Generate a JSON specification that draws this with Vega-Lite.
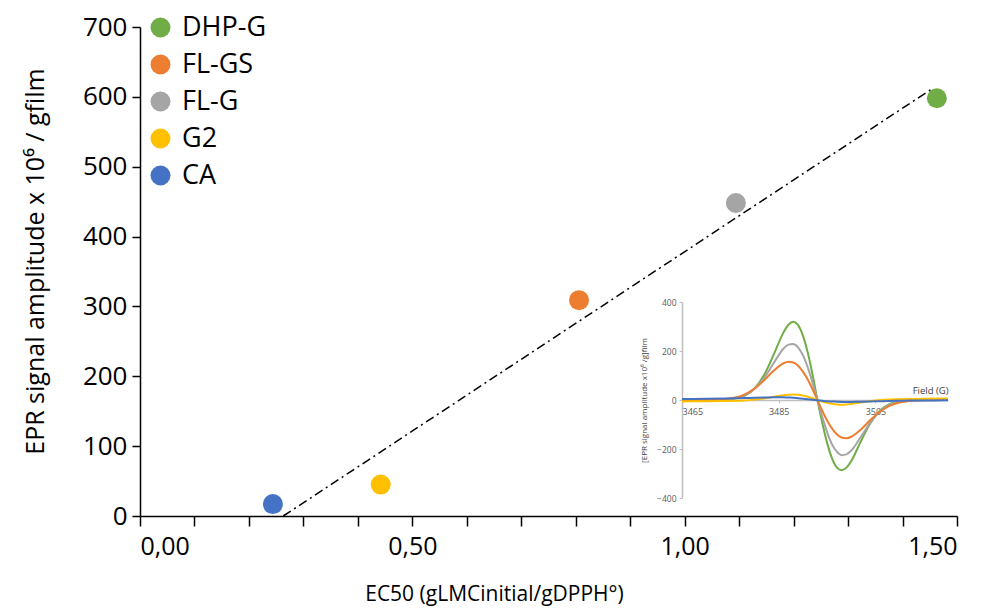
{
  "$schema": "https://vega.github.io/schema/vega-lite/v6.json",
  "width": 817,
  "height": 489,
  "autosize": "none",
  "padding": {"left": 140, "top": 27, "right": 33, "bottom": 100},
  "background": "white",
  "config": {"view": {"stroke": null}, "font": "Open Sans", "axis": {"grid": false}},
  "datasets": {
    "trend": [{"x": 0.263, "y": 0}, {"x": 1.455, "y": 612}],
    "points": [
      {"x": 1.463, "y": 598, "s": "DHP-G"},
      {"x": 0.806, "y": 309, "s": "FL-GS"},
      {"x": 1.094, "y": 448, "s": "FL-G"},
      {"x": 0.442, "y": 45, "s": "G2"},
      {"x": 0.244, "y": 17, "s": "CA"}
    ],
    "epr": [
      {"f":3465,"a":0,"s":"DHP-G"},{"f":3470,"a":0,"s":"DHP-G"},{"f":3474,"a":1,"s":"DHP-G"},{"f":3476,"a":6,"s":"DHP-G"},{"f":3478,"a":18,"s":"DHP-G"},{"f":3480,"a":47,"s":"DHP-G"},{"f":3482,"a":103,"s":"DHP-G"},{"f":3484,"a":187,"s":"DHP-G"},{"f":3486,"a":276,"s":"DHP-G"},{"f":3487,"a":307,"s":"DHP-G"},{"f":3488,"a":319,"s":"DHP-G"},{"f":3489,"a":306,"s":"DHP-G"},{"f":3490,"a":263,"s":"DHP-G"},{"f":3491,"a":194,"s":"DHP-G"},{"f":3492,"a":103,"s":"DHP-G"},{"f":3493,"a":0,"s":"DHP-G"},{"f":3494,"a":-93,"s":"DHP-G"},{"f":3495,"a":-175,"s":"DHP-G"},{"f":3496,"a":-237,"s":"DHP-G"},{"f":3497,"a":-275,"s":"DHP-G"},{"f":3498,"a":-287,"s":"DHP-G"},{"f":3499,"a":-276,"s":"DHP-G"},{"f":3500,"a":-249,"s":"DHP-G"},{"f":3502,"a":-168,"s":"DHP-G"},{"f":3504,"a":-93,"s":"DHP-G"},{"f":3506,"a":-42,"s":"DHP-G"},{"f":3508,"a":-16,"s":"DHP-G"},{"f":3510,"a":-5,"s":"DHP-G"},{"f":3512,"a":-1,"s":"DHP-G"},{"f":3515,"a":0,"s":"DHP-G"},{"f":3520,"a":0,"s":"DHP-G"},
      {"f":3465,"a":0,"s":"FL-G"},{"f":3470,"a":0,"s":"FL-G"},{"f":3474,"a":2,"s":"FL-G"},{"f":3476,"a":7,"s":"FL-G"},{"f":3478,"a":20,"s":"FL-G"},{"f":3480,"a":46,"s":"FL-G"},{"f":3482,"a":91,"s":"FL-G"},{"f":3484,"a":152,"s":"FL-G"},{"f":3486,"a":210,"s":"FL-G"},{"f":3487,"a":226,"s":"FL-G"},{"f":3488,"a":229,"s":"FL-G"},{"f":3489,"a":215,"s":"FL-G"},{"f":3490,"a":183,"s":"FL-G"},{"f":3491,"a":133,"s":"FL-G"},{"f":3492,"a":70,"s":"FL-G"},{"f":3493,"a":0,"s":"FL-G"},{"f":3494,"a":-69,"s":"FL-G"},{"f":3495,"a":-131,"s":"FL-G"},{"f":3496,"a":-180,"s":"FL-G"},{"f":3497,"a":-211,"s":"FL-G"},{"f":3498,"a":-225,"s":"FL-G"},{"f":3499,"a":-222,"s":"FL-G"},{"f":3500,"a":-206,"s":"FL-G"},{"f":3502,"a":-150,"s":"FL-G"},{"f":3504,"a":-90,"s":"FL-G"},{"f":3506,"a":-45,"s":"FL-G"},{"f":3508,"a":-19,"s":"FL-G"},{"f":3510,"a":-7,"s":"FL-G"},{"f":3512,"a":-2,"s":"FL-G"},{"f":3515,"a":0,"s":"FL-G"},{"f":3520,"a":0,"s":"FL-G"},
      {"f":3465,"a":0,"s":"FL-GS"},{"f":3470,"a":0,"s":"FL-GS"},{"f":3474,"a":4,"s":"FL-GS"},{"f":3476,"a":10,"s":"FL-GS"},{"f":3478,"a":23,"s":"FL-GS"},{"f":3480,"a":47,"s":"FL-GS"},{"f":3482,"a":81,"s":"FL-GS"},{"f":3484,"a":120,"s":"FL-GS"},{"f":3486,"a":150,"s":"FL-GS"},{"f":3487,"a":156,"s":"FL-GS"},{"f":3488,"a":153,"s":"FL-GS"},{"f":3489,"a":140,"s":"FL-GS"},{"f":3490,"a":116,"s":"FL-GS"},{"f":3491,"a":84,"s":"FL-GS"},{"f":3492,"a":44,"s":"FL-GS"},{"f":3493,"a":0,"s":"FL-GS"},{"f":3494,"a":-44,"s":"FL-GS"},{"f":3495,"a":-84,"s":"FL-GS"},{"f":3496,"a":-116,"s":"FL-GS"},{"f":3497,"a":-140,"s":"FL-GS"},{"f":3498,"a":-153,"s":"FL-GS"},{"f":3499,"a":-156,"s":"FL-GS"},{"f":3500,"a":-150,"s":"FL-GS"},{"f":3502,"a":-120,"s":"FL-GS"},{"f":3504,"a":-81,"s":"FL-GS"},{"f":3506,"a":-47,"s":"FL-GS"},{"f":3508,"a":-23,"s":"FL-GS"},{"f":3510,"a":-10,"s":"FL-GS"},{"f":3512,"a":-4,"s":"FL-GS"},{"f":3515,"a":-1,"s":"FL-GS"},{"f":3520,"a":0,"s":"FL-GS"},
      {"f":3465,"a":-6,"s":"G2"},{"f":3470,"a":-5,"s":"G2"},{"f":3474,"a":-4,"s":"G2"},{"f":3476,"a":-3,"s":"G2"},{"f":3478,"a":-2,"s":"G2"},{"f":3480,"a":2,"s":"G2"},{"f":3482,"a":6,"s":"G2"},{"f":3484,"a":13,"s":"G2"},{"f":3486,"a":19,"s":"G2"},{"f":3487,"a":21,"s":"G2"},{"f":3488,"a":22,"s":"G2"},{"f":3489,"a":21,"s":"G2"},{"f":3490,"a":18,"s":"G2"},{"f":3491,"a":13,"s":"G2"},{"f":3492,"a":7,"s":"G2"},{"f":3493,"a":0,"s":"G2"},{"f":3494,"a":-6,"s":"G2"},{"f":3495,"a":-11,"s":"G2"},{"f":3496,"a":-15,"s":"G2"},{"f":3497,"a":-18,"s":"G2"},{"f":3498,"a":-19,"s":"G2"},{"f":3499,"a":-18,"s":"G2"},{"f":3500,"a":-16,"s":"G2"},{"f":3502,"a":-10,"s":"G2"},{"f":3504,"a":-4,"s":"G2"},{"f":3506,"a":0,"s":"G2"},{"f":3508,"a":2,"s":"G2"},{"f":3510,"a":3,"s":"G2"},{"f":3512,"a":4,"s":"G2"},{"f":3515,"a":5,"s":"G2"},{"f":3520,"a":6,"s":"G2"},
      {"f":3465,"a":4,"s":"CA"},{"f":3470,"a":5,"s":"CA"},{"f":3474,"a":6,"s":"CA"},{"f":3476,"a":7,"s":"CA"},{"f":3478,"a":8,"s":"CA"},{"f":3480,"a":9,"s":"CA"},{"f":3482,"a":10,"s":"CA"},{"f":3484,"a":11,"s":"CA"},{"f":3486,"a":11,"s":"CA"},{"f":3487,"a":10,"s":"CA"},{"f":3488,"a":9,"s":"CA"},{"f":3489,"a":7,"s":"CA"},{"f":3490,"a":5,"s":"CA"},{"f":3491,"a":3,"s":"CA"},{"f":3492,"a":1,"s":"CA"},{"f":3493,"a":-1,"s":"CA"},{"f":3494,"a":-3,"s":"CA"},{"f":3495,"a":-5,"s":"CA"},{"f":3496,"a":-6,"s":"CA"},{"f":3497,"a":-7,"s":"CA"},{"f":3498,"a":-8,"s":"CA"},{"f":3499,"a":-8,"s":"CA"},{"f":3500,"a":-8,"s":"CA"},{"f":3502,"a":-7,"s":"CA"},{"f":3504,"a":-6,"s":"CA"},{"f":3506,"a":-5,"s":"CA"},{"f":3508,"a":-4,"s":"CA"},{"f":3510,"a":-3,"s":"CA"},{"f":3512,"a":-2,"s":"CA"},{"f":3515,"a":-2,"s":"CA"},{"f":3520,"a":-1,"s":"CA"}
    ]
  },
  "layer": [
    {
      "layer": [
        {
          "data": {"name": "trend"},
          "mark": {"type": "line", "color": "black", "strokeWidth": 1.5, "strokeDash": [9, 4, 2, 4]},
          "encoding": {
            "x": {
              "field": "x", "type": "quantitative",
              "scale": {"domain": [0, 1.5], "nice": false},
              "axis": {
                "title": "EC50 (gLMCinitial/gDPPH°)",
                "values": [0, 0.1, 0.2, 0.3, 0.4, 0.5, 0.6, 0.7, 0.8, 0.9, 1.0, 1.1, 1.2, 1.3, 1.4, 1.5],
                "labelExpr": "round(datum.value*10) % 5 == 0 ? replace(format(datum.value, '.2f'), '.', ',') : ''",
                "labelFontSize": 25, "labelColor": "black", "labelPadding": 8,
                "tickSize": 10, "tickColor": "black", "tickWidth": 1.5,
                "domainColor": "black", "domainWidth": 1.5,
                "titleFontSize": 21, "titleFontWeight": "normal", "titleColor": "black", "titlePadding": 24,
                "titleX": 354, "titleAlign": "center"
              }
            },
            "y": {
              "field": "y", "type": "quantitative",
              "scale": {"domain": [0, 700], "nice": false},
              "axis": {
                "title": "EPR signal amplitude x 10⁶ / gfilm",
                "values": [0, 100, 200, 300, 400, 500, 600, 700],
                "labelFontSize": 26, "labelColor": "black", "labelPadding": 5,
                "tickSize": 8, "tickColor": "black", "tickWidth": 1.5,
                "domainColor": "black", "domainWidth": 1.5,
                "titleFontSize": 25, "titleFontWeight": "normal", "titleColor": "black", "titlePadding": 34,
                "titleY": 234
              }
            }
          }
        },
        {
          "data": {"name": "points"},
          "mark": {"type": "point", "filled": true, "opacity": 1, "size": 400},
          "encoding": {
            "x": {"field": "x", "type": "quantitative"},
            "y": {"field": "y", "type": "quantitative"},
            "color": {
              "field": "s", "type": "nominal",
              "scale": {"domain": ["DHP-G", "FL-GS", "FL-G", "G2", "CA"], "range": ["#70AD47", "#ED7D31", "#A5A5A5", "#FFC000", "#4472C4"]},
              "legend": {
                "orient": "none", "legendX": 7, "legendY": -13, "title": null,
                "labelFontSize": 27, "labelColor": "black", "labelOffset": 8,
                "symbolType": "circle", "symbolSize": 400, "symbolStrokeWidth": 0, "symbolOpacity": 1,
                "rowPadding": 9
              }
            }
          }
        }
      ]
    },
    {
      "data": {"name": "epr"},
      "mark": {"type": "line", "strokeWidth": 2, "interpolate": "monotone"},
      "encoding": {
        "x": {
          "field": "f", "type": "quantitative",
          "scale": {"domain": [3465, 3520], "range": [542, 808], "nice": false, "zero": false},
          "axis": {
            "title": "Field (G)", "orient": "bottom", "offset": -116,
            "values": [3465, 3485, 3505], "format": "d",
            "labelFontSize": 9, "labelColor": "#595959", "labelPadding": 4,
            "domainColor": "#BFBFBF", "domainWidth": 1.5, "tickColor": "#BFBFBF", "tickSize": 3,
            "titleFontSize": 9.5, "titleFontWeight": "normal", "titleColor": "#404040",
            "titleX": 808, "titleY": -5, "titleAlign": "right", "titleBaseline": "bottom"
          }
        },
        "y": {
          "field": "a", "type": "quantitative",
          "scale": {"domain": [-400, 400], "range": [471, 275], "nice": false, "zero": false},
          "axis": {
            "title": "[EPR signal amplitude x10⁶ /g]film", "orient": "left", "offset": -542,
            "values": [-400, -200, 0, 200, 400],
            "labelFontSize": 8.5, "labelColor": "#595959", "labelPadding": 3,
            "domainColor": "#BFBFBF", "domainWidth": 1.5, "tickColor": "#BFBFBF", "tickSize": 3,
            "titleFontSize": 8, "titleFontWeight": "normal", "titleColor": "#404040", "titlePadding": 8
          }
        },
        "color": {"field": "s", "type": "nominal", "legend": null}
      }
    }
  ],
  "resolve": {"scale": {"x": "independent", "y": "independent"}}
}
